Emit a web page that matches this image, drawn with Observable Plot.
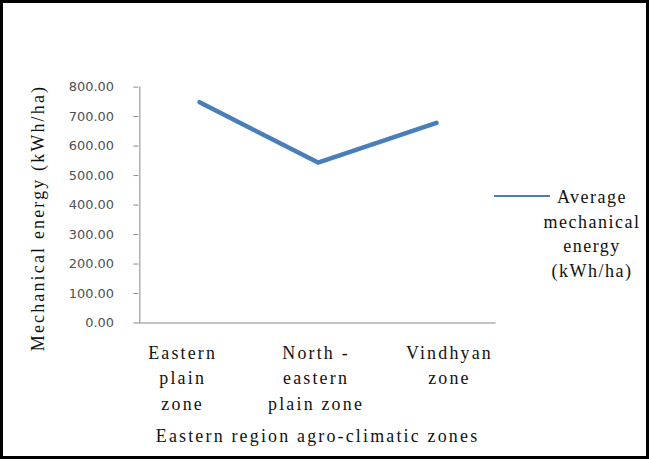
<!DOCTYPE html>
<html><head><meta charset="utf-8">
<script src="https://cdn.jsdelivr.net/npm/d3@7"></script>
<script src="https://cdn.jsdelivr.net/npm/@observablehq/plot@0.6"></script>
<style>
body{margin:0;background:#fff}
#frame{position:relative;width:649px;height:459px;box-sizing:border-box;border:3px solid #000;overflow:hidden;background:#fff}
#chart{position:absolute;left:-3px;top:-3px}
#legend{position:absolute;left:489px;top:182px;width:160px;height:110px}
#legend .sw{position:absolute;left:2px;top:10px;width:56px;height:0;border-top:2.5px solid #4a7ebb}
#legend .tx{position:absolute;left:44px;top:0;width:112px;text-align:center;font-family:"Liberation Serif",serif;font-size:18px;letter-spacing:1.5px;line-height:24.5px;color:#111}
svg text{font-family:"Liberation Serif",serif}
g[aria-label="y-axis tick label"] text{font-family:"DejaVu Sans",sans-serif}
</style></head><body>
<div id="frame"><div id="chart"></div>
<div id="legend"><div class="sw"></div><div class="tx" id="legtext"></div></div>
</div>
<script>
const zones = ["Eastern plain zone", "North - eastern plain zone", "Vindhyan zone"];
const zoneLabels = ["Eastern\nplain\nzone", "North -\neastern\nplain zone", "Vindhyan\nzone"];
const energy = [749, 544, 679];
const yTicks = [0, 100, 200, 300, 400, 500, 600, 700, 800];
const seriesName = "Average mechanical energy (kWh/ha)";
const legendLines = ["Average", "mechanical", "energy", "(kWh/ha)"];
const xTitle = "Eastern region agro-climatic zones";
const yTitle = "Mechanical energy (kWh/ha)";

const data = zones.map((z, i) => ({zone: z, value: energy[i]}));
const labelOf = new Map(zones.map((z, i) => [z, zoneLabels[i]]));
const labelShift = [-17, -2, 13];

const chart = Plot.plot({
  width: 649, height: 459,
  marginLeft: 139, marginRight: 151, marginTop: 87, marginBottom: 135,
  style: {background: "transparent", fontSize: "18px", color: "#111"},
  x: {type: "point", domain: zones, padding: 0.5},
  y: {domain: [0, 800]},
  marks: [
    Plot.ruleY([0], {stroke: "#868686", strokeWidth: 1}),
    Plot.ruleX([zones[0]], {stroke: "#868686", strokeWidth: 1, dx: -60, y1: 0, y2: 800}),
    Plot.axisY({ticks: yTicks, tickFormat: d3.format(".2f"), tickSize: 5, tickPadding: 20,
      fontSize: 13, fill: "#505050", stroke: "#868686",
      label: yTitle, labelAnchor: "center", labelArrow: "none", labelOffset: 108}),
    ...zones.map((z, i) => Plot.axisX({ticks: [z], tickSize: 0, tickPadding: 18, dx: labelShift[i],
      tickFormat: d => labelOf.get(d), lineHeight: 1.42, label: null})),
    Plot.axisX({ticks: [], label: xTitle, labelAnchor: "center", labelArrow: "none", labelOffset: 120}),
    Plot.line(data, {x: "zone", y: "value", stroke: "#4a7ebb", strokeWidth: 4.5, title: () => seriesName})
  ]
});
document.getElementById("chart").appendChild(chart);
document.getElementById("legtext").innerHTML = legendLines.join("<br>");
d3.select(chart).selectAll('g[aria-label="x-axis tick label"] text, g[aria-label="x-axis label"] text')
  .style("letter-spacing", "2.2px");
d3.select(chart).selectAll('g[aria-label="y-axis label"] text')
  .style("letter-spacing", "2.2px").style("font-size", "18px").style("fill", "#111")
  .attr("transform", function() { return (this.getAttribute("transform") || "") + " translate(-13,0)"; });
</script>
</body></html>
